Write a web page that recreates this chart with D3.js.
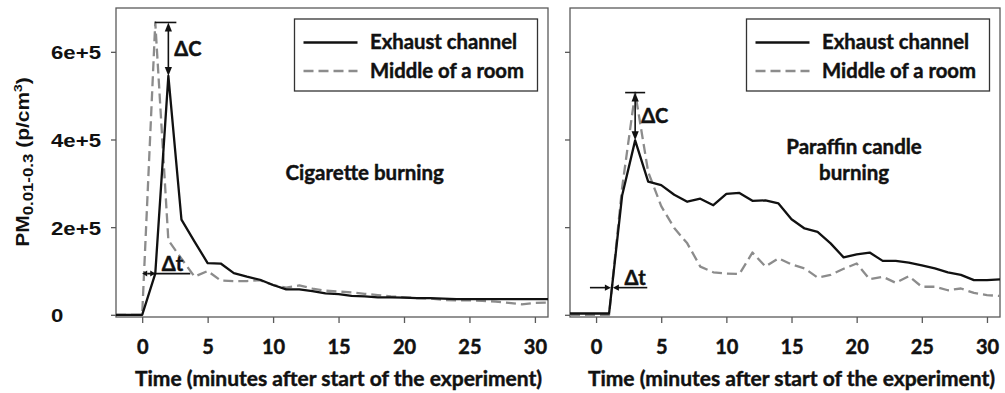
<!DOCTYPE html>
<html>
<head>
<meta charset="utf-8">
<script src="https://cdn.jsdelivr.net/npm/d3@7"></script>
<style>
  body { margin: 0; background: #fff; }
  svg { display: block; }
  .heavy { stroke: #111; stroke-width: 0.45px; }
</style>
</head>
<body>
<svg id="chart" width="1005" height="393"></svg>
<script>
// Minutes after the start of the experiment
const minutes = [-2, -1, 0, 1, 2, 3, 4, 5, 6, 7, 8, 9, 10, 11, 12, 13, 14, 15, 16,
                 17, 18, 19, 20, 21, 22, 23, 24, 25, 26, 27, 28, 29, 30, 31];

// PM0.01-0.3 number concentration (p/cm3), cigarette burning
const cigaretteExhaust = [0, 0, 0, 94000, 545000, 217000, 167000, 118000, 117000, 95000, 87000,
                          80000, 68000, 58000, 58000, 54000, 49000, 47000, 43000, 42000, 40000,
                          40000, 39000, 38000, 38000, 37000, 36000, 36000, 36000, 36000, 36000,
                          36000, 36000, 36000];
const cigaretteRoom = [0, 0, 0, 667000, 170000, 128000, 87000, 100000, 78000, 77000, 77000,
                       79000, 68000, 62000, 67000, 60000, 55000, 53000, 51000, 48000, 45000,
                       42000, 40000, 38000, 37000, 34000, 33000, 33000, 32000, 30000, 27000,
                       24000, 27000, 28000];

// PM0.01-0.3 number concentration (p/cm3), paraffin candle burning
const candleExhaust = [3000, 3000, 3000, 3000, 272000, 398000, 304000, 296000, 274000, 258000,
                       265000, 250000, 276000, 278000, 260000, 261000, 254000, 218000, 197000,
                       189000, 163000, 131000, 138000, 142000, 123000, 123000, 119000, 113000,
                       106000, 97000, 91000, 79000, 79000, 81000];
const candleRoom = [0, 0, 0, 0, 290000, 507000, 326000, 248000, 198000, 163000, 110000, 97000,
                    94000, 93000, 142000, 110000, 129000, 115000, 106000, 85000, 91000, 105000,
                    117000, 81000, 87000, 73000, 88000, 64000, 64000, 56000, 60000, 50000,
                    45000, 43000];

const seriesNames = ["Exhaust channel", "Middle of a room"];
const xTicks = [0, 5, 10, 15, 20, 25, 30];
const yTicks = [0, 200000, 400000, 600000];
const yTickLabels = ["0", "2e+5", "4e+5", "6e+5"];
const cigaretteLabel = ["Cigarette burning"];
const candleLabel = ["Paraffin candle", "burning"];
const xTitle = "Time (minutes after start of the experiment)";

const svg = d3.select("#chart");
const calibriLike = "Lato, 'Open Sans', sans-serif";
const arialLike = "'Liberation Sans', Arial, sans-serif";
const ink = "#111";
const roomGrey = "#8c8c8c";

const plotTop = 8, plotBottom = 317;
const y = d3.scaleLinear().domain([-5000, 700000]).range([plotBottom, plotTop]);

function arrowHead(g, x, yy, dx, dy, len, half) {
  const bx = x - dx * len, by = yy - dy * len;
  const px = -dy * half, py = dx * half;
  g.append("path")
    .attr("d", `M${x},${yy}L${bx + px},${by + py}L${bx - px},${by - py}Z`)
    .attr("fill", ink);
}

function label(g, size) {
  return g.append("text")
    .attr("class", "heavy")
    .attr("font-family", calibriLike).attr("font-weight", 700)
    .attr("font-size", size).attr("fill", ink);
}

const panels = [
  {
    left: 116, right: 548, exhaust: cigaretteExhaust, room: cigaretteRoom,
    label: cigaretteLabel, labelT: 17, labelBaselines: [180], yLabels: true,
    dC: { t: 2, barFrom: -13.5, barTo: 8 },
    dT: { style: "between", level: cigaretteExhaust[3], t0: 0, t1: 1, extend: 35,
          textDx: 6.5, textBaseline: -2.5, head: 5 }
  },
  {
    left: 570, right: 1000, exhaust: candleExhaust, room: candleRoom,
    label: candleLabel, labelT: 19.8, labelBaselines: [154, 180], yLabels: false,
    dC: { t: 3, barFrom: -10, barTo: 10 },
    dT: { style: "inward", level: 62000, t0: -0.47, t1: 3.93, meet: 1.214,
          textDx: 12.5, textBaseline: -2.5, head: 6 }
  }
];

panels.forEach(p => {
  const x = d3.scaleLinear().domain([-2, 31]).range([p.left, p.right]);
  const g = svg.append("g");

  // plot frame
  g.append("rect")
    .attr("x", p.left).attr("y", plotTop)
    .attr("width", p.right - p.left).attr("height", plotBottom - plotTop)
    .attr("fill", "none").attr("stroke", "#5a5a5a").attr("stroke-width", 1.3);

  // x axis
  const xa = g.append("g").attr("transform", `translate(0,${plotBottom})`)
    .call(d3.axisBottom(x).tickValues(xTicks).tickSize(6).tickFormat(d3.format("d")));
  xa.select(".domain").remove();
  xa.selectAll(".tick line").attr("stroke", "#5a5a5a").attr("stroke-width", 1.3);
  xa.selectAll(".tick text")
    .attr("class", "heavy")
    .attr("y", 0).attr("dy", null)
    .attr("transform", "translate(0,36.5)")
    .attr("font-family", calibriLike).attr("font-weight", 700)
    .attr("font-size", 20).attr("fill", ink);

  // y axis ticks
  const ya = g.append("g").attr("transform", `translate(${p.left},0)`)
    .call(d3.axisLeft(y).tickValues(yTicks).tickSize(5).tickFormat(""));
  ya.select(".domain").remove();
  ya.selectAll(".tick line").attr("stroke", "#5a5a5a").attr("stroke-width", 1.3);

  if (p.yLabels) {
    yTicks.forEach((v, i) => {
      svg.append("text")
        .attr("transform", `translate(51,${y(v) + 7.5}) scale(1.2,1)`)
        .attr("font-family", arialLike).attr("font-weight", 700)
        .attr("font-size", 18.5).attr("fill", ink)
        .text(yTickLabels[i]);
    });
  }

  // x axis title
  label(g, 21).attr("x", x(15)).attr("y", 386)
    .attr("text-anchor", "middle").text(xTitle);

  // series
  const line = vals => d3.line().x((d, i) => x(minutes[i])).y(d => y(d))(vals);
  g.append("path").attr("d", line(p.room))
    .attr("fill", "none").attr("stroke", roomGrey).attr("stroke-width", 2.3)
    .attr("stroke-dasharray", "10,5").attr("stroke-linejoin", "round");
  g.append("path").attr("d", line(p.exhaust))
    .attr("fill", "none").attr("stroke", ink).attr("stroke-width", 2.3)
    .attr("stroke-linejoin", "round");

  // ΔC annotation: gap between the two peaks
  const roomPeak = d3.max(p.room);
  const ci = minutes.indexOf(p.dC.t);
  const ax = x(p.dC.t), yTop = y(roomPeak), yBot = y(p.exhaust[ci]);
  const ann = g.append("g");
  ann.append("line").attr("x1", ax + p.dC.barFrom).attr("x2", ax + p.dC.barTo)
    .attr("y1", yTop).attr("y2", yTop).attr("stroke", ink).attr("stroke-width", 1.6);
  ann.append("line").attr("x1", ax).attr("x2", ax)
    .attr("y1", yTop + 8).attr("y2", yBot - 8).attr("stroke", ink).attr("stroke-width", 1.6);
  arrowHead(ann, ax, yTop, 0, -1, 9, 3.6);
  arrowHead(ann, ax, yBot, 0, 1, 9, 3.6);
  label(ann, 20).attr("x", ax + 6).attr("y", (yTop + yBot) / 2 + 7).text("ΔC");

  // Δt annotation: delay between the two rises
  const d = p.dT, ly = y(d.level);
  if (d.style === "between") {
    const xa0 = x(d.t0), xa1 = x(d.t1);
    ann.append("line").attr("x1", xa0 + d.head).attr("x2", xa1 + d.extend)
      .attr("y1", ly).attr("y2", ly).attr("stroke", ink).attr("stroke-width", 1.6);
    arrowHead(ann, xa0, ly, -1, 0, d.head, 3);
    arrowHead(ann, xa1, ly, 1, 0, d.head, 3);
    label(ann, 20).attr("x", xa1 + d.textDx).attr("y", ly + d.textBaseline).text("Δt");
  } else {
    const xm = x(d.meet);
    ann.append("line").attr("x1", x(d.t0)).attr("x2", xm - d.head)
      .attr("y1", ly).attr("y2", ly).attr("stroke", ink).attr("stroke-width", 1.6);
    ann.append("line").attr("x1", xm + d.head).attr("x2", x(d.t1))
      .attr("y1", ly).attr("y2", ly).attr("stroke", ink).attr("stroke-width", 1.6);
    arrowHead(ann, xm - 1, ly, 1, 0, d.head, 3.2);
    arrowHead(ann, xm + 1, ly, -1, 0, d.head, 3.2);
    label(ann, 20).attr("x", xm + d.textDx).attr("y", ly + d.textBaseline).text("Δt");
  }

  // panel label
  p.label.forEach((t, i) => {
    label(g, 20.5).attr("x", x(p.labelT)).attr("y", p.labelBaselines[i])
      .attr("text-anchor", "middle").text(t);
  });

  // legend
  const lw = 243, lh = 72, lx = p.right - 10.5 - lw, lyTop = 19;
  const lg = g.append("g").attr("transform", `translate(${lx},${lyTop})`);
  lg.append("rect").attr("width", lw).attr("height", lh)
    .attr("fill", "#fff").attr("stroke", "#333").attr("stroke-width", 1.3);
  seriesNames.forEach((name, i) => {
    const rowY = 23.5 + i * 28.5;
    lg.append("line").attr("x1", 9).attr("x2", 63).attr("y1", rowY).attr("y2", rowY)
      .attr("stroke", i === 0 ? ink : roomGrey).attr("stroke-width", 2.3)
      .attr("stroke-dasharray", i === 0 ? null : "10,5");
    label(lg, 20.3).attr("x", 75.5).attr("y", rowY + 6.5).text(name);
  });
});

// y axis title with sub- and superscript
const yt = svg.append("text")
  .attr("transform", "translate(28.5,162) rotate(-90) scale(1.2,1)")
  .attr("text-anchor", "middle")
  .attr("font-family", arialLike).attr("font-weight", 700)
  .attr("font-size", 17.5).attr("fill", ink);
yt.append("tspan").text("PM");
yt.append("tspan").attr("font-size", 14).attr("dy", 4.5).text("0.01-0.3");
yt.append("tspan").attr("dy", -4.5).text(" (p/cm");
yt.append("tspan").attr("font-size", 11.5).attr("dy", -7).text("3");
yt.append("tspan").attr("dy", 7).text(")");
</script>
</body>
</html>
